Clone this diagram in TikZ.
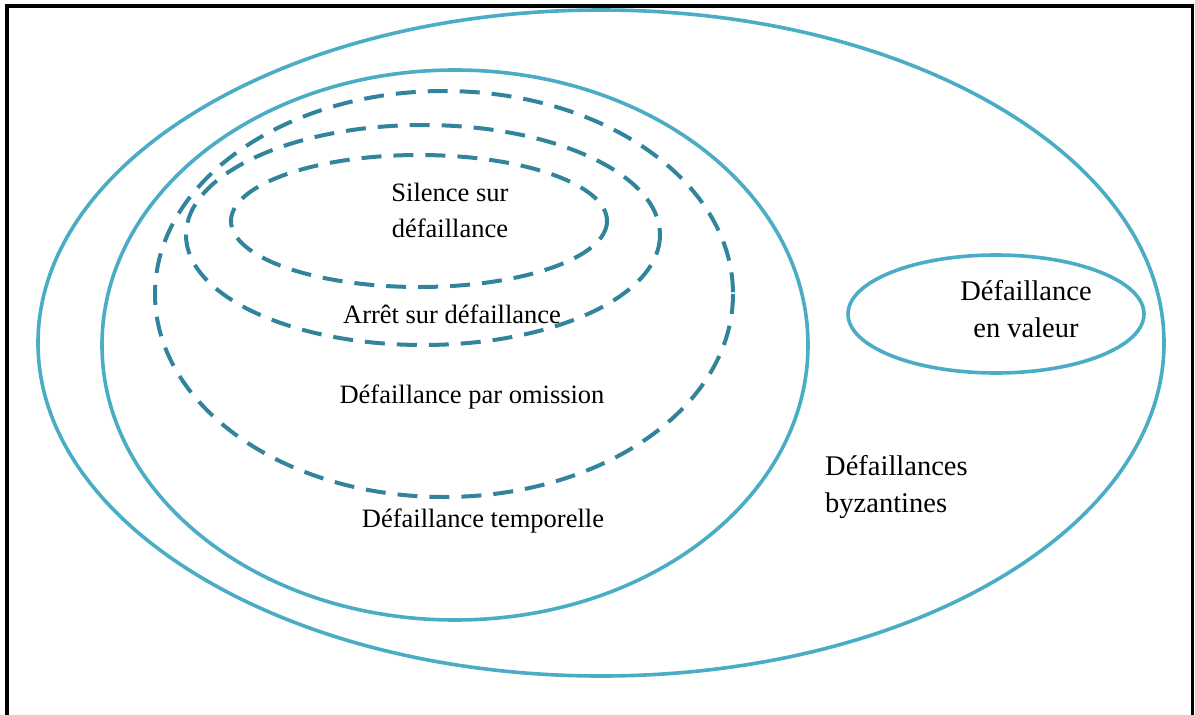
\documentclass[tikz,border=0pt]{standalone}
\usepackage{fontspec}
\setmainfont{Liberation Serif}
\definecolor{ringblue}{HTML}{4BACC6}
\definecolor{dashblue}{HTML}{31849B}
\tikzset{
  ring/.style={draw=ringblue, line width=3.6pt},
  dashring/.style={draw=dashblue, line width=4pt, dash pattern=on 20pt off 12pt},
  lbl/.style={inner sep=0pt, align=center, font=\fontsize{26.5}{36}\selectfont},
  biglbl/.style={inner sep=0pt, align=center, font=\fontsize{28.5}{37}\selectfont},
}
\begin{document}
\begin{tikzpicture}[x=1pt, y=-1pt]
  \useasboundingbox (0,0) rectangle (1195,715);
  % open frame: left, top and right sides
  \draw[line width=4pt] (7,715) -- (7,6) -- (1191,6);
  \draw[line width=3pt] (1192.5,4) -- (1192.5,715);

  % nested failure classes
  \draw[ring] (601,343) ellipse [x radius=563, y radius=333];
  \draw[ring] (455,345) ellipse [x radius=353, y radius=275];
  \draw[dashring] (444,294) ellipse [x radius=289, y radius=203];
  \draw[dashring] (423,235) ellipse [x radius=237, y radius=110];
  \draw[dashring] (419,221) ellipse [x radius=188, y radius=66];
  \draw[ring] (996,314) ellipse [x radius=148, y radius=59];

  % labels (two-line labels are placed by the baseline of their last line)
  \node[lbl, anchor=base] (silence) at (450,237) {Silence sur\\défaillance};
  \node[lbl, anchor=base] (arret) at (452,323) {Arrêt sur défaillance};
  \node[lbl, anchor=base] (omission) at (472,403) {Défaillance par omission};
  \node[lbl, anchor=base] (temporelle) at (483,527) {Défaillance temporelle};
  \node[biglbl, anchor=base west, align=left] (byz) at (825,512) {Défaillances\\byzantines};
  \node[biglbl, anchor=base] (valeur) at (1026,337) {Défaillance\\en valeur};
\end{tikzpicture}
\end{document}
